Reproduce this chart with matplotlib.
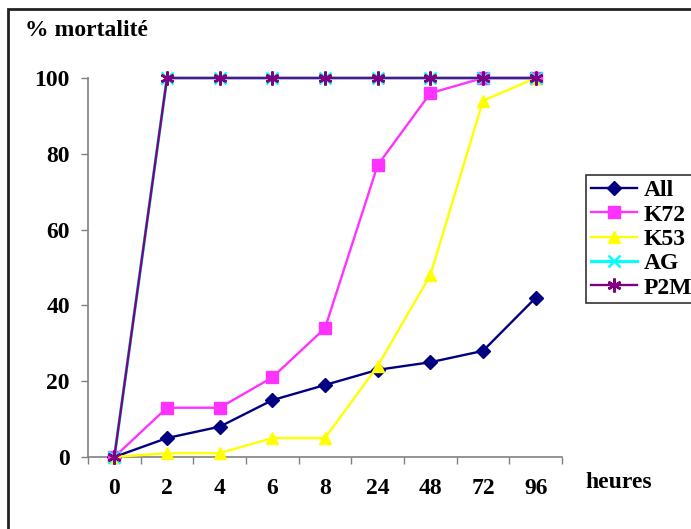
import matplotlib.pyplot as plt
import numpy as np
from matplotlib.patches import Rectangle

plt.rcParams['font.family'] = ['Liberation Serif', 'DejaVu Serif']
plt.rcParams['font.weight'] = 'bold'

# donnees
heures = ['0', '2', '4', '6', '8', '24', '48', '72', '96']
all_vals = [0, 5, 8, 15, 19, 23, 25, 28, 42]
k72_vals = [0, 13, 13, 21, 34, 77, 96, 100, 100]
k53_vals = [0, 1, 1, 5, 5, 24, 48, 94, 100]
ag_vals = [0, 100, 100, 100, 100, 100, 100, 100, 100]
p2m_vals = [0, 100, 100, 100, 100, 100, 100, 100, 100]

fs = 17

fig = plt.figure(figsize=(6.91, 5.29), dpi=100)
ax = fig.add_axes([88 / 691, 1 - 457 / 529, (562 - 88) / 691, (457 - 78) / 529])

x = np.arange(len(heures))
ax.plot(x, all_vals, color='#000080', marker='D', markersize=7, lw=1.7, label='All', clip_on=False, zorder=3)
ax.plot(x, k72_vals, color='#FF33FF', marker='s', markersize=8, lw=1.7, label='K72', clip_on=False, zorder=3)
ax.plot(x, k53_vals, color='#FFFF00', marker='^', markersize=9, lw=1.7, label='K53', clip_on=False, zorder=3)
ax.plot(x, ag_vals, color='#00FFFF', marker='x', markersize=8, mew=1.8, lw=2.2, label='AG', clip_on=False, zorder=3)
ax.plot(x, p2m_vals, color='#800080', marker=(6, 2, 0), markersize=10, mew=1.8, lw=1.7, label='P2M', clip_on=False, zorder=4)

ax.set_xlim(-0.5, len(heures) - 0.5)
ax.set_ylim(0, 100)
ax.set_yticks([0, 20, 40, 60, 80, 100])
ax.tick_params(axis='y', labelsize=fs, length=5, width=1, color='#808080', pad=8)

# ticks entre les categories, etiquettes au centre
ax.set_xticks(np.arange(-0.5, len(heures), 1.0))
ax.set_xticklabels([])
ax.set_xticks(x, minor=True)
ax.set_xticklabels(heures, minor=True)
ax.tick_params(axis='x', which='major', length=5, width=1, color='#808080')
ax.tick_params(axis='x', which='minor', length=0, labelsize=fs, pad=15)

for s in ['top', 'right']:
    ax.spines[s].set_visible(False)
for s in ['left', 'bottom']:
    ax.spines[s].set_color('#808080')
    ax.spines[s].set_linewidth(1.2)

fig.text(25 / 691, 1 - 31 / 529, '% mortalité', fontsize=fs, fontweight='bold', va='center', ha='left')
fig.text(585 / 691, 1 - 482 / 529, 'heures', fontsize=fs, fontweight='bold', va='center', ha='left')

leg = fig.legend(loc='upper left', bbox_to_anchor=(586 / 691, 1 - 175 / 529), borderaxespad=0,
                 fontsize=fs, frameon=True, fancybox=False, handlelength=1.95, handletextpad=0.3,
                 labelspacing=0.12, borderpad=0.2)
leg.get_frame().set_edgecolor('black')
leg.get_frame().set_linewidth(1.2)
for t in leg.get_texts():
    t.set_fontweight('bold')

# cadre exterieur
fig.patches.append(Rectangle((8 / 691, -0.1), 1.2, 1 - 9 / 529 + 0.1, transform=fig.transFigure,
                             fill=False, edgecolor='#222222', linewidth=2))

plt.savefig('out.png', dpi=100)
